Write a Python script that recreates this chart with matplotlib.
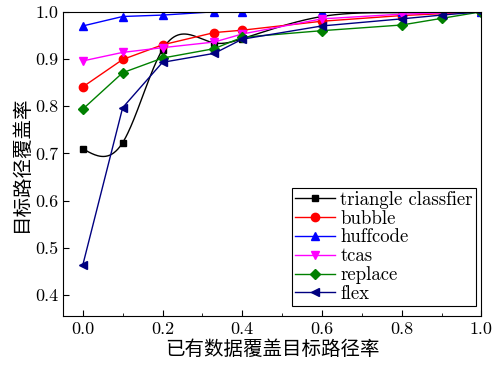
import matplotlib
matplotlib.use("Agg")
import matplotlib.pyplot as plt
import numpy as np
from matplotlib.ticker import MultipleLocator

plt.rcParams["font.family"] = ["cmr10", "Noto Sans CJK SC", "DejaVu Serif"]
plt.rcParams["axes.formatter.use_mathtext"] = True
plt.rcParams["mathtext.fontset"] = "cm"

# data
tri_x = [0, 0.1, 0.2, 0.33, 0.4, 0.6, 0.8, 1.0]
tri_y = [0.710, 0.723, 0.920, 0.934, 0.943, 0.990, 0.998, 1.0]

bubble_x = [0, 0.1, 0.2, 0.33, 0.4, 0.6, 0.8, 1.0]
bubble_y = [0.841, 0.899, 0.930, 0.956, 0.961, 0.980, 0.992, 1.0]

huff_x = [0, 0.1, 0.2, 0.33, 0.4, 0.6, 0.8, 1.0]
huff_y = [0.970, 0.990, 0.993, 1.0, 1.0, 1.0, 1.0, 1.0]

tcas_x = [0, 0.1, 0.2, 0.33, 0.4, 0.6, 0.8, 1.0]
tcas_y = [0.896, 0.914, 0.924, 0.936, 0.953, 0.985, 0.995, 1.0]

replace_x = [0, 0.1, 0.2, 0.33, 0.4, 0.6, 0.8, 0.9, 1.0]
replace_y = [0.794, 0.871, 0.902, 0.922, 0.946, 0.960, 0.972, 0.986, 1.0]

flex_x = [0, 0.1, 0.2, 0.33, 0.4, 0.6, 0.8, 0.9, 1.0]
flex_y = [0.464, 0.797, 0.893, 0.912, 0.942, 0.970, 0.985, 0.993, 1.0]


def natural_spline(x, y, n=400):
    x = np.asarray(x, float)
    y = np.asarray(y, float)
    k = len(x)
    h = np.diff(x)
    A = np.zeros((k, k))
    b = np.zeros(k)
    A[0, 0] = A[-1, -1] = 1
    for i in range(1, k - 1):
        A[i, i - 1] = h[i - 1]
        A[i, i] = 2 * (h[i - 1] + h[i])
        A[i, i + 1] = h[i]
        b[i] = 6 * ((y[i + 1] - y[i]) / h[i] - (y[i] - y[i - 1]) / h[i - 1])
    m = np.linalg.solve(A, b)
    xs = np.linspace(x[0], x[-1], n)
    idx = np.clip(np.searchsorted(x, xs) - 1, 0, k - 2)
    x0, x1 = x[idx], x[idx + 1]
    hh = x1 - x0
    t0, t1 = x1 - xs, xs - x0
    ys = (m[idx] * t0**3 + m[idx + 1] * t1**3) / (6 * hh) \
        + (y[idx] / hh - m[idx] * hh / 6) * t0 \
        + (y[idx + 1] / hh - m[idx + 1] * hh / 6) * t1
    return xs, ys


fig = plt.figure(figsize=(5.03, 3.68), dpi=100)
ax = fig.add_axes([0.125, 0.14, 0.832, 0.828])

lw = 1.0
ms = 5.5

# triangle classfier drawn as a smooth curve with markers at the data
sx, sy = natural_spline(tri_x, tri_y)
ax.plot(sx, sy, color="black", lw=lw)
ax.plot(tri_x, tri_y, ls="none", marker="s", color="black", ms=ms - 0.5)
ax.plot([], [], color="black", marker="s", ms=ms - 0.5, lw=lw, label="triangle classfier")

ax.plot(bubble_x, bubble_y, color="red", marker="o", ms=ms + 0.5, lw=lw, label="bubble")
ax.plot(huff_x, huff_y, color="blue", marker="^", ms=ms + 0.5, lw=lw, label="huffcode")
ax.plot(tcas_x, tcas_y, color="magenta", marker="v", ms=ms + 0.5, lw=lw, label="tcas")
ax.plot(replace_x, replace_y, color="green", marker="D", ms=ms - 0.5, lw=lw, label="replace")
ax.plot(flex_x, flex_y, color="navy", marker="<", ms=ms + 0.5, lw=lw, label="flex")

ax.set_xlim(-0.05, 1.0)
ax.set_ylim(0.355, 1.0)
ax.xaxis.set_major_locator(MultipleLocator(0.2))
ax.xaxis.set_minor_locator(MultipleLocator(0.1))
ax.yaxis.set_major_locator(MultipleLocator(0.1))
ax.xaxis.set_major_formatter(matplotlib.ticker.FormatStrFormatter("%.1f"))
ax.yaxis.set_major_formatter(matplotlib.ticker.FormatStrFormatter("%.1f"))
ax.tick_params(direction="in", which="both", labelsize=13, length=4)
ax.tick_params(which="minor", length=2.5)

ax.set_xlabel("已有数据覆盖目标路径率", fontsize=14, family=["Noto Sans CJK SC"], labelpad=2)
ax.set_ylabel("目标路径覆盖率", fontsize=14, family=["Noto Sans CJK SC"], labelpad=2)

leg = ax.legend(loc="lower right", bbox_to_anchor=(0.986, 0.035), fontsize=13.5,
                frameon=True, fancybox=False, edgecolor="black", framealpha=1,
                borderpad=0.15, labelspacing=0.05, handlelength=2.1,
                handletextpad=0.3, borderaxespad=0)
leg.get_frame().set_linewidth(0.8)

fig.savefig("out.png", dpi=100)
